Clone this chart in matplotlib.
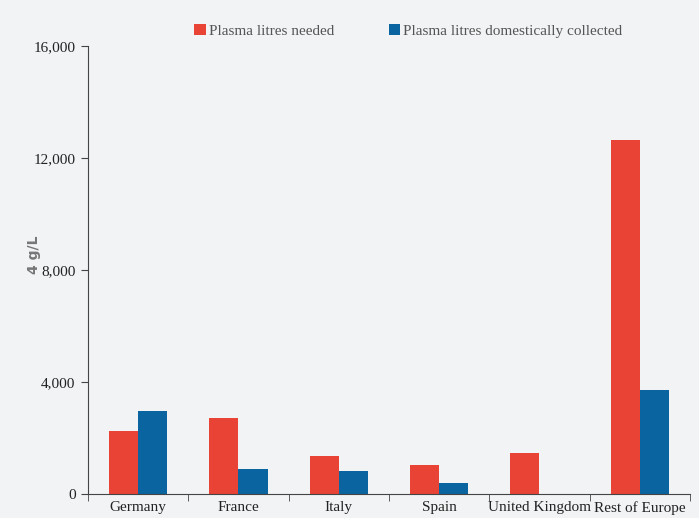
import numpy as np
import matplotlib.pyplot as plt

countries = ['Germany', 'France', 'Italy', 'Spain', 'United Kingdom', 'Rest of Europe']
needed = [2250, 2700, 1350, 1030, 1460, 12640]
collected = [2950, 900, 820, 390, 0, 3700]

bg = '#f2f3f5'
red = '#e94335'
blue = '#0a64a0'

plt.rcParams['font.family'] = ['Liberation Serif', 'DejaVu Serif']

fig = plt.figure(figsize=(6.99, 5.18), dpi=100, facecolor=bg)
ax = fig.add_axes([0.1259, 0.0463, 0.8612, 0.8649], facecolor=bg)

x = np.arange(len(countries))
w = 0.29
ax.bar(x - w/2, needed, w, color=red, label='Plasma litres needed')
ax.bar(x + w/2, collected, w, color=blue, label='Plasma litres domestically collected')

ax.set_xlim(-0.5, len(countries) - 0.5)
ax.set_ylim(0, 16000)
ax.set_yticks([0, 4000, 8000, 12000, 16000])
ax.set_yticklabels(['0', '4,000', '8,000', '12,000', '16,000'])
ax.set_xticks(x)
ax.set_xticklabels(countries)
ax.set_xticks(np.arange(-0.5, len(countries)), minor=True)
ax.tick_params(axis='x', which='major', length=0, pad=5, labelsize=11, labelcolor='#222222')
ax.tick_params(axis='x', which='minor', length=5, color='#444444')
ax.tick_params(axis='y', length=5, color='#444444', pad=4, labelsize=11, labelcolor='#222222')

for s in ['top', 'right']:
    ax.spines[s].set_visible(False)
for s in ['left', 'bottom']:
    ax.spines[s].set_color('#444444')

ax.set_ylabel('4 g/L', family='DejaVu Sans', fontweight='bold', color='#777777', fontsize=10)
ax.yaxis.set_label_coords(-0.078, 0.535)

fig.legend(loc='upper left', bbox_to_anchor=(0.258, 0.98), ncol=2, frameon=False,
           fontsize=11, handlelength=0.75, handleheight=0.75, handletextpad=0.2,
           columnspacing=3.6, labelcolor='#555555')

fig.savefig('out.png', dpi=100, facecolor=bg)
